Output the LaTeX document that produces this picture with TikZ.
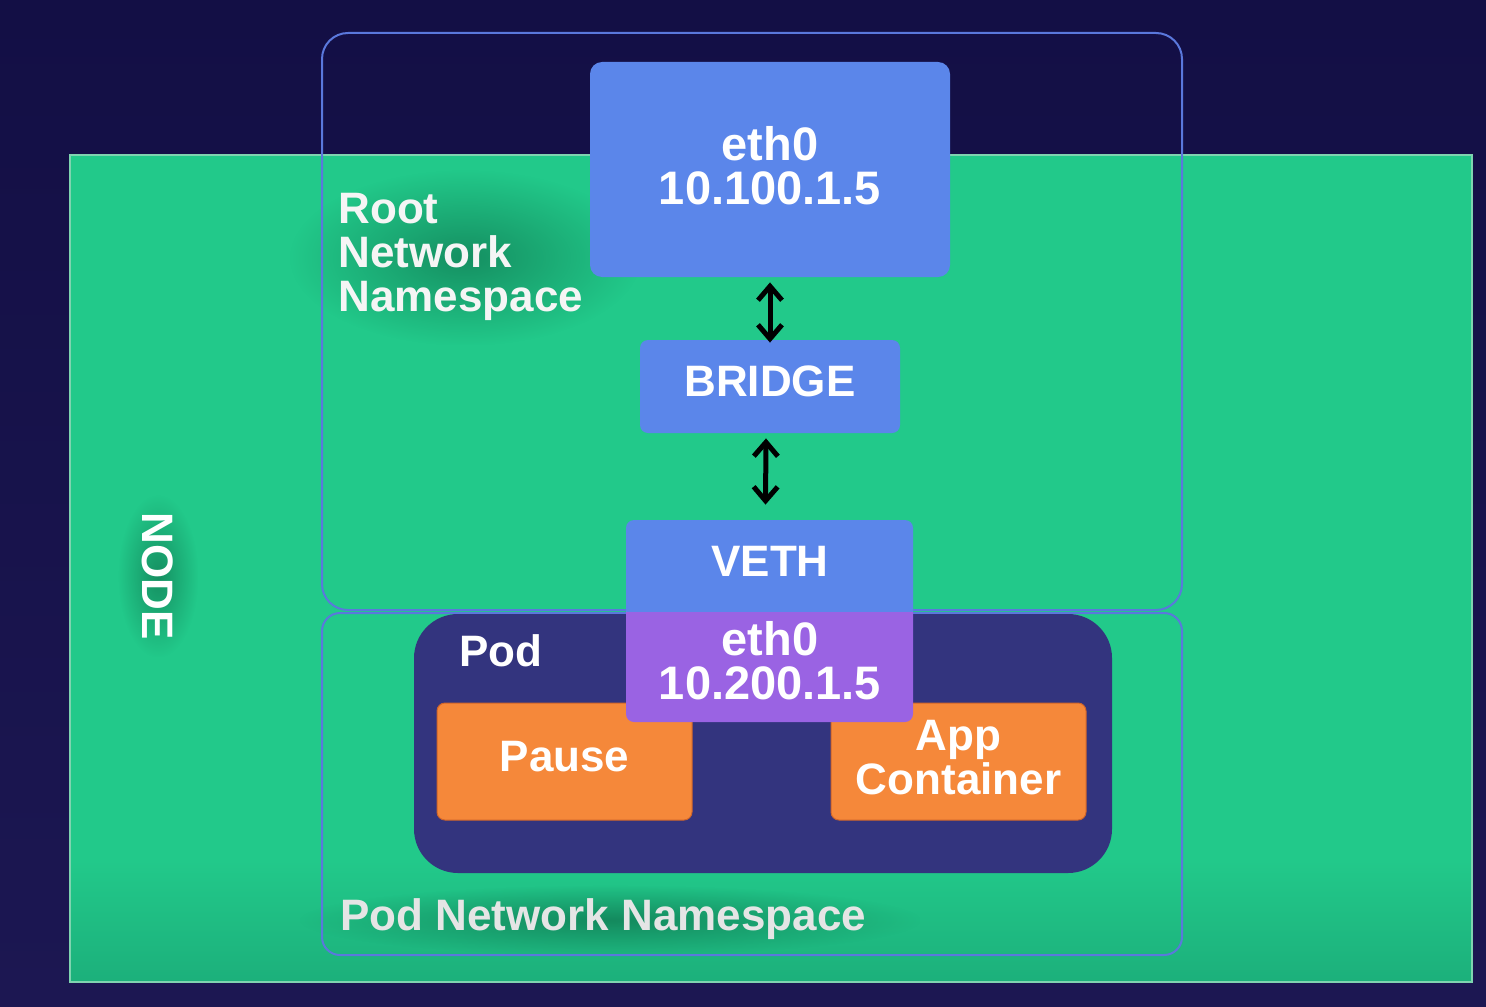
\documentclass[tikz,border=0pt]{standalone}
\usepackage{fontspec}
\setmainfont{Liberation Sans}
\usetikzlibrary{fit,arrows.meta,fadings}
\definecolor{bgtop}{HTML}{130F45}
\definecolor{bgbot}{HTML}{1C1752}
\definecolor{nodegreen}{HTML}{22C98A}
\definecolor{greendk}{HTML}{1CB07B}
\definecolor{greenedge}{HTML}{7FD4B0}
\definecolor{glowc}{HTML}{0B6040}
\definecolor{nsline}{HTML}{5A78DC}
\definecolor{ifblue}{HTML}{5B86EA}
\definecolor{podnavy}{HTML}{33347E}
\definecolor{purp}{HTML}{9A63E3}
\definecolor{orng}{HTML}{F5883A}
\definecolor{orngedge}{HTML}{D0652A}
\tikzfading[name=glowfade, inner color=transparent!0, outer color=transparent!100]
\begin{document}
\begin{tikzpicture}[x=0.5pt,y=-0.5pt,
  lbl/.style={font=\bfseries\fontsize{22}{22}\selectfont, text=white, align=center, inner sep=0pt},
  big/.style={font=\bfseries\fontsize{23.5}{22}\selectfont},
  ifbox/.style={fill=ifblue, inner sep=0pt},
  ctr/.style={fill=orng, draw=orngedge, line width=0.5pt, rounded corners=4pt, inner sep=0pt},
  area/.style={inner sep=0pt},
  glow/.style={fill=glowc, fill opacity=#1, path fading=glowfade},
  arr/.style={line width=2.5pt, black,
    {Straight Barb[length=7pt,width=12pt]}-{Straight Barb[length=7pt,width=12pt]}}]
\useasboundingbox (0,0) rectangle (1486,1006);
% background
\shade[top color=bgtop, bottom color=bgbot] (0,0) rectangle (1486,1006);
% node area
\fill[nodegreen] (70,155) rectangle (1472,982);
\shade[top color=nodegreen, bottom color=greendk] (70,860) rectangle (1472,982);
% soft glows behind the labels
\begin{scope}
\clip (70,155) rectangle (1472,982);
\fill[glow=0.55] (290,170) rectangle (640,345);
\fill[glow=0.55] (300,885) rectangle (920,955);
\fill[glow=0.55] (118,495) rectangle (198,657);
\end{scope}
\draw[greenedge, line width=0.6pt] (70,155) rectangle (1472,982);
% namespaces
\draw[nsline, line width=1pt, rounded corners=13pt] (322,33) rectangle (1182,610);
\draw[nsline, line width=1pt, rounded corners=9pt] (322,613) rectangle (1182,955);
% pod
\fill[podnavy, rounded corners=22pt] (414,614) rectangle (1112,873);
\node[ctr, fit={(437,703)(692,820)}] (pause) {};
\node[lbl] (pauset) at (564.5,757) {Pause};
\node[ctr, fit={(831,703)(1086,820)}] (app) {};
\node[lbl] (appt) at (958.5,758) {App\\Container};
% interfaces
\node[ifbox, rounded corners=6pt, fit={(590,62)(950,277)}] (eth0r) {};
\node[lbl, big] (eth0rt) at (770,166) {eth0\\10.100.1.5};
\node[ifbox, rounded corners=4pt, fit={(640,340)(900,433)}] (bridge) {};
\node[lbl] (bridget) at (770,381) {BRIDGE};
\fill[ifblue] (626,612) [rounded corners=4pt] -- (626,520) -- (913,520) [sharp corners] -- (913,612) -- cycle;
\node[area, fit={(626,520)(913,612)}] (veth) {};
\node[lbl] (vetht) at (770,561) {VETH};
\fill[purp] (913,612) [rounded corners=4pt] -- (913,722) -- (626,722) [sharp corners] -- (626,612) -- cycle;
\node[area, fit={(626,612)(913,722)}] (podeth) {};
\node[lbl, big] (podetht) at (770,661) {eth0\\10.200.1.5};
% connectors
\draw[arr] ([yshift=-2.5pt]eth0r.south) -- ([yshift=-1.5pt]bridge.north);
\draw[arr] ([xshift=-2pt,yshift=-2.5pt]bridge.south) -- ([xshift=-2pt,yshift=7.5pt]veth.north);
% labels
\node[lbl, anchor=north west, align=left, text=white!96!black] (rootns) at (338,193) {Root\\Network\\Namespace};
\node[lbl, anchor=base west, text=white!90!black] (podns) at (340,930) {Pod Network Namespace};
\node[lbl, rotate=-90] (nodel) at (158,576) {NODE};
\node[lbl, anchor=base west] (podl) at (459,666) {Pod};
\end{tikzpicture}
\end{document}
